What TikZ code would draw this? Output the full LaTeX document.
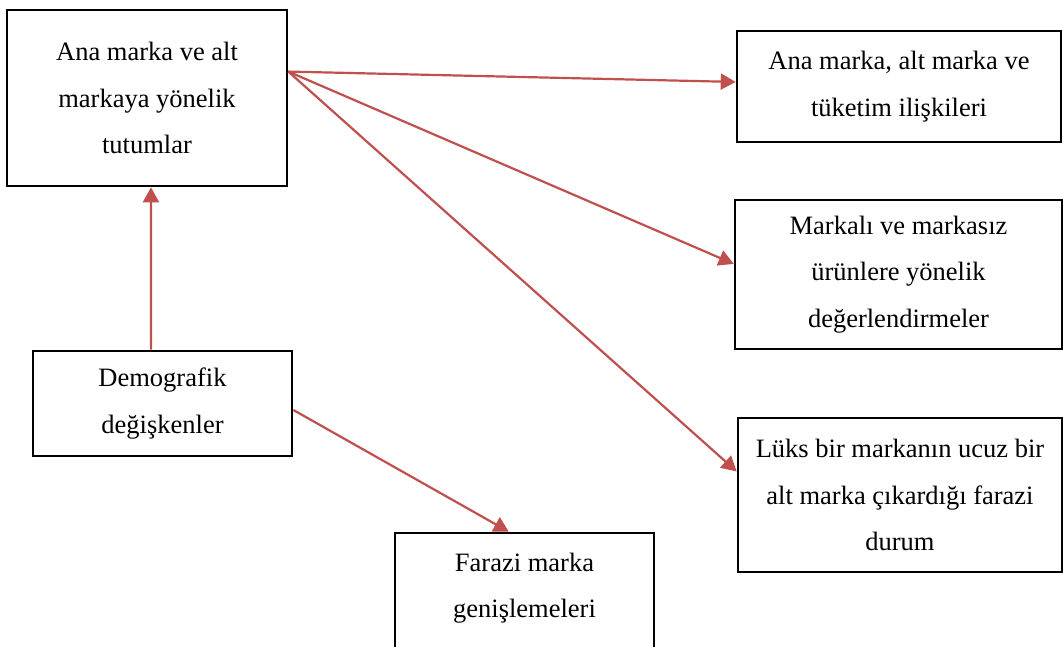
\documentclass[tikz,border=0pt]{standalone}
\usepackage{fontspec}
\setmainfont{Liberation Serif}
\usetikzlibrary{arrows.meta,calc}
\definecolor{arrowred}{HTML}{C0504D}
\begin{document}
\begin{tikzpicture}[x=1pt,y=-1pt,
  box/.style={draw=black,line width=2.6pt,align=center,font=\fontsize{26.5}{46.5}\selectfont,inner sep=0pt},
  txt/.style={align=center,font=\fontsize{26.5}{46.5}\selectfont,inner sep=0pt},
  conn/.style={draw=arrowred,line width=2.2pt,-{Triangle[length=15pt,width=16pt]}}]
\useasboundingbox (0,0) rectangle (1063,646);
\clip (0,0) rectangle (1063,646);
\fill[white] (0,0) rectangle (1063,646);
\node[box,minimum width=280pt,minimum height=176pt] (b1) at (147,98) {Ana marka ve alt\\markaya yönelik\\tutumlar};
\node[box,minimum width=324pt,minimum height=111pt] (b2) at (899,86.5) {Ana marka, alt marka ve\\tüketim ilişkileri};
\node[box,minimum width=327pt,minimum height=149pt] (b3) at (898.5,274.5) {Markalı ve markasız\\ürünlere yönelik\\değerlendirmeler};
\node[box,minimum width=324pt,minimum height=154pt] (b4) at (900,495) {Lüks bir markanın ucuz bir\\alt marka çıkardığı farazi\\durum};
\node[box,minimum width=259pt,minimum height=105pt] (b5) at (162.5,403.5) {Demografik\\değişkenler};
\node[box,minimum width=259pt,minimum height=125pt] (b6) at (524.5,595.5) {};
\node[txt] (t6) at (524.5,588) {Farazi marka\\genişlemeleri};
\draw[conn] ($(b1.north east)!0.352!(b1.south east)$) -- ($(b2.north west)!0.46!(b2.south west)$);
\draw[conn] ($(b1.north east)!0.352!(b1.south east)$) -- ($(b3.north west)!0.43!(b3.south west)$);
\draw[conn] ($(b1.north east)!0.352!(b1.south east)$) -- ($(b4.north west)!0.35!(b4.south west)$);
\draw[conn] ($(b5.north west)!0.456!(b5.north east)$) -- ($(b1.south west)!0.514!(b1.south east)$);
\draw[conn] ($(b5.north east)!0.56!(b5.south east)$) -- ($(b6.north west)!0.44!(b6.north east)$);
\end{tikzpicture}
\end{document}
